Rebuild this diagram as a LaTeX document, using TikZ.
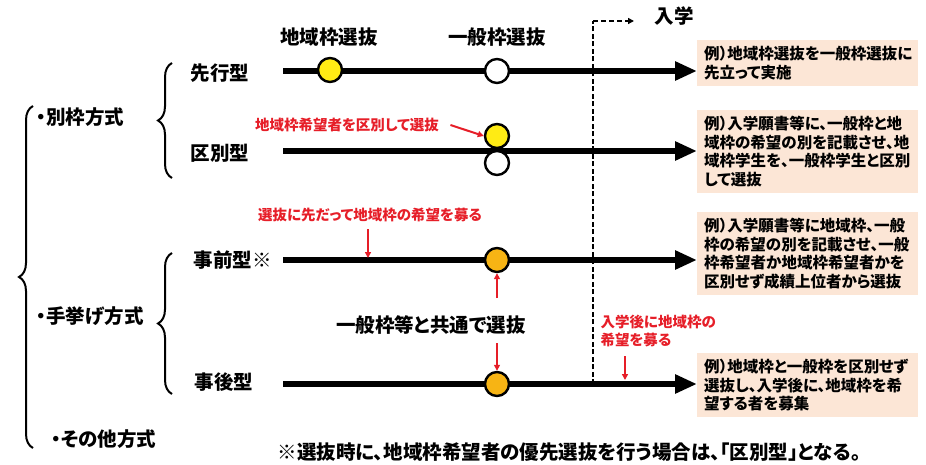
\documentclass[tikz,border=0pt]{standalone}
\usepackage{fontspec}
\setmainfont{Noto Sans CJK JP}[RawFeature=+palt]
\usepackage{xcolor}
\usetikzlibrary{arrows.meta,positioning,calc,decorations.pathreplacing}
\definecolor{pickyellow}{RGB}{255,235,20}
\definecolor{pickorange}{RGB}{247,180,20}
\definecolor{notered}{RGB}{230,30,40}
\definecolor{boxpeach}{RGB}{252,230,214}
\tikzset{%
  time line/.style={
    line width=6pt,
    -{Triangle[length=22pt,width=18pt]}
  },
  pick/.style={
    circle,
    draw,
    line width=2.4pt,
    minimum size=24pt,
    inner sep=0pt
  },
  note box/.style={
    fill=boxpeach,
    text width=207pt,
    inner xsep=7pt,
    inner ysep=6pt,
    align=left,
    font=\bfseries\fontsize{15.5}{18.5}\selectfont
  },
  red note/.style={
    text=notered,
    font=\bfseries\fontsize{14.5}{18}\selectfont
  },
  red arrow/.style={
    draw=notered,
    line width=2pt,
    -{Triangle[length=6pt,width=6pt]}
  },
  main label/.style={
    font=\bfseries\fontsize{19.5}{22}\selectfont
  },
  big brace/.style={
    decorate,
    decoration={brace,amplitude=14pt},
    line width=2pt
  },
}

\begin{document}
\begin{tikzpicture}[x=1pt, y=-1pt]
  \useasboundingbox (0,0) rectangle (926,465);

  % examples on the right
  \node [note box, anchor=north west] (box1) at (697,40)
    {例）地域枠選抜を一般枠選抜に\\先立って実施};
  \node [note box, anchor=north west] (box2) at (697,110)
    {例）入学願書等に、一般枠と地\\域枠の希望の別を記載させ、地\\域枠学生を、一般枠学生と区別\\して選抜};
  \node [note box, anchor=north west] (box3) at (697,212)
    {例）入学願書等に地域枠、一般\\枠の希望の別を記載させ、一般\\枠希望者か地域枠希望者かを\\区別せず成績上位者から選抜};
  \node [note box, anchor=north west] (box4) at (697,353)
    {例）地域枠と一般枠を区別せず\\選抜し、入学後に、地域枠を希\\望する者を募集};

  % type labels
  \node [main label, anchor=west] (senko) at (187,73) {先行型};
  \node [main label, anchor=west] (kubetsu) at (187,153) {区別型};
  \node [main label, anchor=west] (jizen) at (190,260) {事前型※};
  \node [main label, anchor=west] (jigo) at (191,382) {事後型};

  \foreach \n/\y in {1/71,2/151,3/260,4/384}
    \coordinate (start-\n) at (283,\y);

  % enrolment
  \coordinate (gate-top) at (593,21);
  \node [main label, anchor=west] (nyugaku) at (651,16) {入学};
  \draw [line width=2.4pt, dash pattern=on 5pt off 2.5pt] (start-4 -| gate-top) -- (gate-top);
  \draw [line width=2pt, dash pattern=on 5pt off 3pt, -{Triangle[length=6pt,width=6pt]}] (gate-top) -- (634,21);

  % time lines
  \foreach \n in {1,...,4}
    \draw [time line] (start-\n) -- (start-\n -| box1.west);

  % selections
  \node [main label] (chiiki) at (329,37) {地域枠選抜};
  \node [main label] (ippan) at (497,37) {一般枠選抜};
  \node [pick, fill=pickyellow] (pick-1a) at (330,70) {};
  \node [pick, fill=white] (pick-1b) at (497,71) {};
  \node [pick, fill=pickyellow] (pick-2a) at (497,136) {};
  \node [pick, fill=white] (pick-2b) at (497,163) {};
  \node [pick, fill=pickorange] (pick-3) at (497,260) {};
  \node [pick, fill=pickorange] (pick-4) at (497,384) {};

  % red notes
  \node [red note] (kubetsu-note) at (347,125) {地域枠希望者を区別して選抜};
  \draw [red arrow] (kubetsu-note.east) ++(8,0) -- (pick-2a.west);
  \node [red note] (jizen-note) at (370,215) {選抜に先だって地域枠の希望を募る};
  \coordinate (jizen-tip) at (368,258);
  \draw [red arrow] (jizen-note.south -| jizen-tip) ++(0,4) -- (jizen-tip);
  \node [main label] (common) at (431,325) {一般枠等と共通で選抜};
  \draw [red arrow] (497,298) -- (pick-3.south);
  \draw [red arrow] (497,343) -- (pick-4.north);
  \node [red note, anchor=north west, align=left] (jigo-note) at (597,311) {入学後に地域枠の\\希望を募る};
  \coordinate (jigo-tip) at (625,380);
  \draw [red arrow] (jigo-note.south -| jigo-tip) ++(0,6) -- (jigo-tip);

  % braces and groups
  \draw [big brace] (172,178) -- (172,63);
  \draw [big brace] (172,394) -- (172,253);
  \draw [big brace] (33,448) -- (33,106);
  \node [main label, anchor=west] (betsuwaku) at (33,117) {・別枠方式};
  \node [main label, anchor=west] (teage) at (33,316) {・手挙げ方式};
  \node [main label, anchor=west] (sonota) at (48,439) {・その他方式};

  % footnote
  \node [main label, anchor=west] (footnote) at (274,452) {※選抜時に、地域枠希望者の優先選抜を行う場合は、「区別型」となる。};
\end{tikzpicture}
\end{document}
